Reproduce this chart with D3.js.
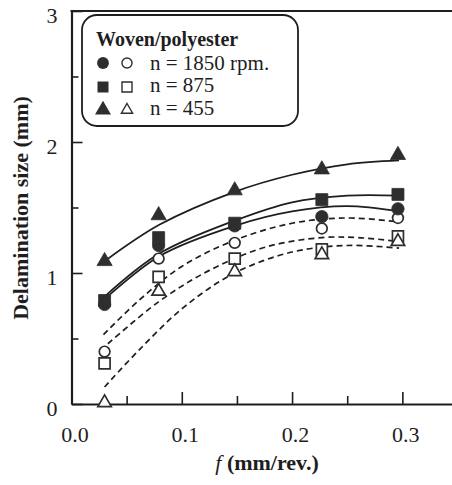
<!DOCTYPE html>
<html>
<head>
<meta charset="utf-8">
<script src="https://cdn.jsdelivr.net/npm/d3@7"></script>
<style>
  html, body { margin: 0; padding: 0; background: #fff; }
  svg text { font-family: "Liberation Serif", "Times New Roman", Times, "DejaVu Serif", serif !important; }
</style>
</head>
<body>
<div id="chart"></div>
<script>
// Feed rates (mm/rev) where drilling tests were run
const feed = [0.03, 0.079, 0.148, 0.227, 0.296];

// Measured delamination size (mm) - filled = one side, open = other side
const filledCircle   = [0.76, 1.21, 1.36, 1.43, 1.49];
const filledSquare   = [0.79, 1.27, 1.38, 1.56, 1.60];
const filledTriangle = [1.09, 1.44, 1.63, 1.79, 1.90];
const openCircle     = [0.40, 1.11, 1.23, 1.34, 1.42];
const openSquare     = [0.31, 0.97, 1.11, 1.18, 1.28];
const openTriangle   = [0.01, 0.86, 1.01, 1.14, 1.24];

// Fitted curves as [f, size] pairs
const fitCircleSolid = [[0.03, 0.80], [0.08, 1.13], [0.148, 1.36], [0.2, 1.47], [0.25, 1.51], [0.297, 1.47]];
const fitSquareSolid = [[0.03, 0.82], [0.08, 1.15], [0.148, 1.40], [0.2, 1.54], [0.25, 1.59], [0.297, 1.59]];
const fitTriangleSolid = [[0.03, 1.09], [0.08, 1.37], [0.148, 1.62], [0.2, 1.75], [0.25, 1.83], [0.297, 1.86]];
const fitCircleDash = [[0.029, 0.53], [0.061, 0.79], [0.1, 1.05], [0.148, 1.25], [0.2, 1.38], [0.25, 1.42], [0.297, 1.39]];
const fitSquareDash = [[0.033, 0.46], [0.079, 0.78], [0.125, 1.02], [0.177, 1.20], [0.227, 1.27], [0.26, 1.27], [0.297, 1.24]];
const fitTriangleDash = [[0.03, 0.13], [0.061, 0.41], [0.102, 0.74], [0.148, 1.00], [0.2, 1.16], [0.25, 1.21], [0.297, 1.19]];

// Axis ticks
const xTicks = [0.0, 0.1, 0.2, 0.3];
const xMinor = [0.05, 0.15, 0.25];
const yTicks = [0, 1, 2, 3];
const yMinor = [0.5, 1.5, 2.5];

// Legend
const legendTitle = "Woven/polyester";
const legendLabels = ["n = 1850 rpm.", "n = 875", "n = 455"];

const width = 452, height = 485;
const ink = "#1e1e1e";
const markInk = "#2e2e2e";
const serif = '"Liberation Serif", "Times New Roman", Times, "DejaVu Serif", serif';

const svg = d3.select("#chart").append("svg")
    .attr("width", width)
    .attr("height", height)
    .style("display", "block");

const x = d3.scaleLinear().domain([0, 0.35]).range([71.5, 457.5]);
const y = d3.scaleLinear().domain([0, 3]).range([404, 11]);

// frame (top border, right side is cut off in the original)
svg.append("line")
    .attr("x1", x(0) - 1).attr("x2", width + 5)
    .attr("y1", y(3)).attr("y2", y(3))
    .attr("stroke", ink).attr("stroke-width", 2.2);

// Y axis
const yAxis = svg.append("g")
    .attr("transform", `translate(${x(0)},0)`)
    .call(d3.axisLeft(y).tickValues(yTicks).tickFormat(d3.format("d"))
        .tickSizeInner(-11).tickSizeOuter(0).tickPadding(14))
    .attr("font-family", serif);
yAxis.select(".domain").attr("stroke", ink).attr("stroke-width", 2.2);
yAxis.selectAll(".tick line").attr("stroke", ink).attr("stroke-width", 1.6);
yAxis.selectAll("text")
    .attr("dy", "0.85em")
    .attr("y", -7)
    .style("font-size", "22px")
    .style("fill", ink);

svg.append("g")
    .attr("transform", `translate(${x(0)},0)`)
    .call(d3.axisLeft(y).tickValues(yMinor).tickFormat("")
        .tickSizeInner(-7).tickSizeOuter(0))
    .call(g => g.select(".domain").remove())
    .selectAll(".tick line").attr("stroke", ink).attr("stroke-width", 1.6);

// X axis
const xAxis = svg.append("g")
    .attr("transform", `translate(0,${y(0)})`)
    .call(d3.axisBottom(x).tickValues(xTicks).tickFormat(d3.format(".1f"))
        .tickSizeInner(-12).tickSizeOuter(0).tickPadding(22))
    .attr("font-family", serif);
xAxis.select(".domain").attr("stroke", ink).attr("stroke-width", 2.2);
xAxis.selectAll(".tick line").attr("stroke", ink).attr("stroke-width", 1.6);
xAxis.selectAll("text")
    .attr("dx", "3px")
    .style("font-size", "22px")
    .style("fill", ink);

svg.append("g")
    .attr("transform", `translate(0,${y(0)})`)
    .call(d3.axisBottom(x).tickValues(xMinor).tickFormat("")
        .tickSizeInner(-8).tickSizeOuter(0))
    .call(g => g.select(".domain").remove())
    .selectAll(".tick line").attr("stroke", ink).attr("stroke-width", 1.6);

// Axis titles
svg.append("text")
    .attr("transform", "translate(28,208) rotate(-90)")
    .attr("text-anchor", "middle")
    .style("font-size", "22px")
    .style("font-weight", "bold")
    .style("fill", ink)
    .text("Delamination size (mm)");

const xTitle = svg.append("text")
    .attr("x", 267).attr("y", 470)
    .attr("text-anchor", "middle")
    .style("font-size", "22px")
    .style("fill", ink);
xTitle.append("tspan").style("font-style", "italic").text("f");
xTitle.append("tspan").style("font-weight", "bold").text(" (mm/rev.)");

// Fitted curves
const line = d3.line()
    .x(d => x(d[0]))
    .y(d => y(d[1]))
    .curve(d3.curveCatmullRom.alpha(0.5));

const curves = [
    { pts: fitTriangleSolid, dash: null },
    { pts: fitSquareSolid, dash: null },
    { pts: fitCircleSolid, dash: null },
    { pts: fitCircleDash, dash: "6,4" },
    { pts: fitSquareDash, dash: "6,4" },
    { pts: fitTriangleDash, dash: "6,4" }
];

svg.append("g")
    .selectAll("path")
    .data(curves)
    .join("path")
    .attr("d", d => line(d.pts))
    .attr("fill", "none")
    .attr("stroke", ink)
    .attr("stroke-width", d => d.dash ? 1.7 : 1.8)
    .attr("stroke-dasharray", d => d.dash);

// Markers
const series = [
    { vals: openSquare, type: d3.symbolSquare, size: 121, filled: false },
    { vals: openTriangle, type: d3.symbolTriangle, size: 78, filled: false },
    { vals: openCircle, type: d3.symbolCircle, size: 90, filled: false },
    { vals: filledCircle, type: d3.symbolCircle, size: 120, filled: true },
    { vals: filledSquare, type: d3.symbolSquare, size: 144, filled: true },
    { vals: filledTriangle, type: d3.symbolTriangle, size: 100, filled: true }
];

series.forEach(s => {
    svg.append("g")
        .selectAll("path")
        .data(s.vals.map((v, i) => [feed[i], v]))
        .join("path")
        .attr("transform", d => `translate(${x(d[0])},${y(d[1])})`)
        .attr("d", d3.symbol().type(s.type).size(s.size))
        .attr("fill", s.filled ? markInk : "#fff")
        .attr("stroke", markInk)
        .attr("stroke-width", s.filled ? 0.8 : 1.7);
});

// Legend
const legend = svg.append("g");
legend.append("rect")
    .attr("x", 82).attr("y", 15)
    .attr("width", 216).attr("height", 111)
    .attr("rx", 15).attr("ry", 15)
    .attr("fill", "#fff")
    .attr("stroke", ink)
    .attr("stroke-width", 1.8);

legend.append("text")
    .attr("x", 96).attr("y", 46)
    .style("font-size", "20px")
    .style("font-weight", "bold")
    .style("fill", ink)
    .text(legendTitle);

const legendRows = [
    { filled: d3.symbolCircle, fs: 110, open: d3.symbolCircle, os: 80 },
    { filled: d3.symbolSquare, fs: 121, open: d3.symbolSquare, os: 100 },
    { filled: d3.symbolTriangle, fs: 110, open: d3.symbolTriangle, os: 55 }
];
const rowY = [63, 87, 110];
const textY = [70, 92, 115];

legendRows.forEach((r, i) => {
    legend.append("path")
        .attr("transform", `translate(103,${rowY[i]})`)
        .attr("d", d3.symbol().type(r.filled).size(r.fs))
        .attr("fill", markInk);
    legend.append("path")
        .attr("transform", `translate(127,${rowY[i]})`)
        .attr("d", d3.symbol().type(r.open).size(r.os))
        .attr("fill", "#fff")
        .attr("stroke", markInk)
        .attr("stroke-width", 1.4);
    legend.append("text")
        .attr("x", 150).attr("y", textY[i])
        .style("font-size", "21px")
        .style("fill", ink)
        .text(legendLabels[i]);
});
</script>
</body>
</html>
